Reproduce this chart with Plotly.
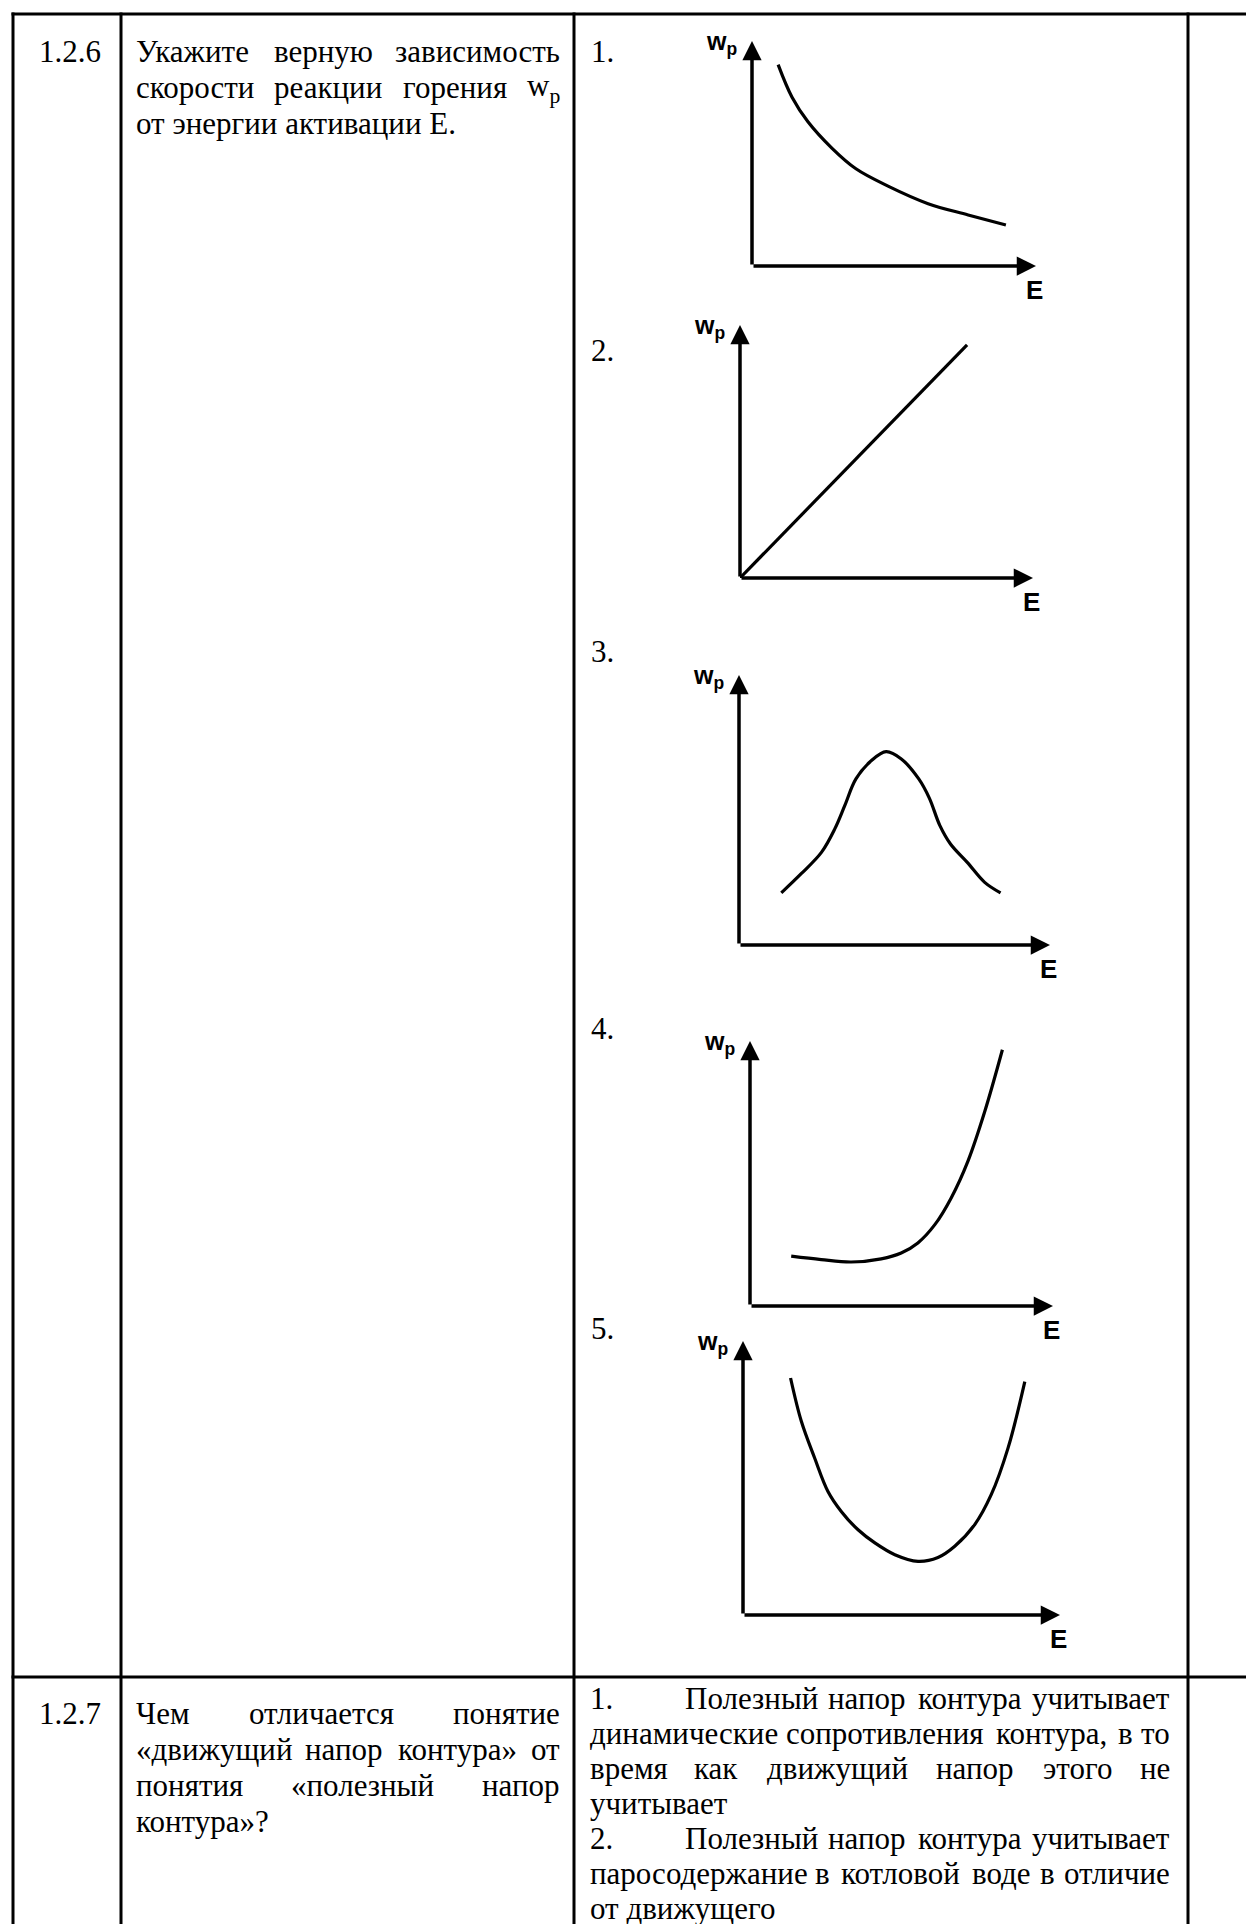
import re
import plotly.graph_objects as go

# ---------------------------------------------------------------------------
# Page / table geometry (pixels)
# ---------------------------------------------------------------------------
W_PX, H_PX = 1254, 1924
COL_X = [5, 113, 566, 1180, 1251]
ROW_Y = [6, 1669]

SERIF = 'Liberation Serif, Times New Roman, serif'
SANS = 'Liberation Sans, Arial, sans-serif'
TXT = 31

# ---------------------------------------------------------------------------
# Curve data: activation energy E (0-100) vs burn rate w_p (0-100)
# ---------------------------------------------------------------------------
g1_e = [9.2, 14.1, 19.7, 28.2, 36.6, 47.9, 62.0, 76.1, 89.4]
g1_w = [89.5, 75.0, 64.1, 52.3, 43.2, 35.5, 27.7, 22.7, 18.2]

g2_e = [0, 77.5]
g2_w = [0, 92.1]

g3_e = [13.6, 20.0, 26.5, 30.8, 34.0, 37.6, 42.6, 47.3, 52.2, 57.8, 61.2, 64.6, 68.0, 73.4, 79.0, 84.1]
g3_w = [19.3, 26.4, 34.3, 43.0, 51.6, 61.5, 68.3, 71.6, 68.9, 61.5, 54.4, 44.2, 37.4, 30.6, 23.2, 19.3]

g4_e = [13.6, 23.5, 33.4, 43.3, 49.9, 55.4, 61.0, 66.4, 71.9, 77.5, 83.3]
g4_w = [18.8, 17.5, 16.6, 17.8, 20.0, 23.8, 30.7, 40.8, 54.6, 73.5, 96.7]

g5_e = [15.0, 18.4, 22.6, 26.8, 31.0, 36.3, 41.6, 47.9, 55.2, 61.5, 66.8, 73.1, 78.3, 83.6, 88.9]
g5_w = [86.5, 70.7, 57.3, 45.1, 37.8, 31.1, 26.3, 22.0, 19.6, 21.0, 25.1, 33.0, 43.9, 60.9, 85.2]

CURVES = [(g1_e, g1_w, 'spline'), (g2_e, g2_w, 'linear'), (g3_e, g3_w, 'spline'),
          (g4_e, g4_w, 'spline'), (g5_e, g5_w, 'spline')]

# axis frame for every small graph, in data units
AXIS_E = [0, 100]
AXIS_W = [0, 100]

# graph frames: origin x, origin y, arrow tip x, arrow tip y (px)
FRAMES = [(744, 258, 1028, 33), (732, 570, 1025, 317), (731, 937, 1042, 667),
          (742, 1298, 1045, 1033), (735, 1607, 1052, 1333)]
GRAPH_NUM_BASE = [53, 352, 653, 1030, 1330]

# ---------------------------------------------------------------------------
# Texts
# ---------------------------------------------------------------------------
Q1_NUM = '1.2.6'
Q1_LINES = [('Укажите верную зависимость', True),
            ('скорости реакции горения w<sub>p</sub>', True),
            ('от энергии активации Е.', False)]
Q1_BASE = [53, 89, 125]

Q2_NUM = '1.2.7'
Q2_LINES = [('Чем отличается понятие', True),
            ('«движущий напор контура» от', True),
            ('понятия «полезный напор', True),
            ('контура»?', False)]
Q2_BASE = [1715, 1751, 1787, 1823]

A2_LINES = [('1.', 'Полезный напор контура учитывает', True),
            ('', 'динамические сопротивления контура, в то', True),
            ('', 'время как движущий напор этого не', True),
            ('', 'учитывает', False),
            ('2.', 'Полезный напор контура учитывает', True),
            ('', 'паросодержание в котловой воде в отличие', True),
            ('', 'от движущего', False)]
A2_BASE = [1700, 1735, 1770, 1805, 1840, 1875, 1910]

# approximate Times glyph widths (1/1000 em)
GLYPH = {
    'а': 444, 'б': 508, 'в': 472, 'г': 410, 'д': 509, 'е': 444, 'ж': 691, 'з': 395,
    'и': 535, 'й': 535, 'к': 486, 'л': 499, 'м': 633, 'н': 535, 'о': 500, 'п': 535,
    'р': 500, 'с': 444, 'т': 437, 'у': 500, 'ф': 648, 'х': 500, 'ц': 535, 'ч': 503,
    'ш': 770, 'щ': 770, 'ъ': 517, 'ы': 672, 'ь': 456, 'э': 429, 'ю': 747, 'я': 460,
    'У': 700, 'Ч': 664, 'П': 722, 'Е': 611, '«': 500, '»': 500, '.': 250, ',': 250,
    '?': 444, 'w': 722, 'p': 500,
}


def px_x(x):
    return x / W_PX


def px_y(y):
    return 1 - y / H_PX


def word_w(word, size=TXT):
    total = 0
    for part in re.split(r'(<sub>.*?</sub>)', word):
        if part.startswith('<sub>'):
            total += 0.7 * sum(GLYPH.get(c, 500) for c in part[5:-6])
        else:
            total += sum(GLYPH.get(c, 500) for c in part)
    return total / 1000 * size


def add_text(fig, text, x, base, anchor='left', size=TXT, family=SERIF):
    fig.add_annotation(text=text, x=px_x(x), y=px_y(base - size * 0.3),
                       xref='paper', yref='paper', xanchor=anchor, yanchor='middle',
                       showarrow=False, font=dict(family=family, size=size, color='black'))


def add_line(fig, text, left, right, base, justify):
    words = text.split(' ')
    if not justify or len(words) == 1:
        add_text(fig, text, left, base)
        return
    widths = [word_w(w) for w in words]
    gap = (right - left - sum(widths)) / (len(words) - 1)
    pos = left
    for i, (w, wd) in enumerate(zip(words, widths)):
        if i == 0:
            add_text(fig, w, left, base, 'left')
        elif i == len(words) - 1:
            add_text(fig, w, right, base, 'right')
        else:
            add_text(fig, w, pos + wd / 2, base, 'center')
        pos += wd + gap


fig = go.Figure()

# graphs
for i, ((e, w, shape), (ox, oy, tx, ty)) in enumerate(zip(CURVES, FRAMES)):
    n = '' if i == 0 else str(i + 1)
    xr, yr = 'x' + n, 'y' + n
    fig.add_trace(go.Scatter(x=e, y=w, mode='lines', xaxis=xr, yaxis=yr,
                             line=dict(color='black', width=3.2, shape=shape),
                             cliponaxis=False, showlegend=False, hoverinfo='skip'))
    fig.update_layout(**{
        'xaxis' + n: dict(domain=[px_x(ox), px_x(tx)], range=AXIS_E, visible=False,
                          anchor=yr),
        'yaxis' + n: dict(domain=[px_y(oy), px_y(ty)], range=AXIS_W, visible=False,
                          anchor=xr),
    })
    # E axis and w_p axis with arrow heads
    for hx, hy in [(AXIS_E[1], AXIS_W[0]), (AXIS_E[0], AXIS_W[1])]:
        fig.add_annotation(x=hx, y=hy, ax=AXIS_E[0], ay=AXIS_W[0], xref=xr, yref=yr,
                           axref=xr, ayref=yr, text='', showarrow=True, arrowhead=2,
                           arrowsize=1.1, arrowwidth=3.5, arrowcolor='black')
    fig.add_annotation(x=AXIS_E[0], y=AXIS_W[1], xref=xr, yref=yr, text='<b>w<sub>p</sub></b>',
                       xanchor='right', yanchor='middle', xshift=-13, yshift=-2,
                       showarrow=False, font=dict(family=SANS, size=25, color='black'))
    fig.add_annotation(x=AXIS_E[1], y=AXIS_W[0], xref=xr, yref=yr, text='<b>E</b>',
                       xanchor='center', yanchor='middle', yshift=-24, xshift=-2,
                       showarrow=False, font=dict(family=SANS, size=26, color='black'))
    add_text(fig, f'{i + 1}.', 581, GRAPH_NUM_BASE[i])

# question 1.2.6
add_text(fig, Q1_NUM, 29, Q1_BASE[0])
for (line, just), base in zip(Q1_LINES, Q1_BASE):
    add_line(fig, line, 126, 554, base, just)

# question 1.2.7
add_text(fig, Q2_NUM, 29, Q2_BASE[0])
for (line, just), base in zip(Q2_LINES, Q2_BASE):
    add_line(fig, line, 126, 554, base, just)
for (num, line, just), base in zip(A2_LINES, A2_BASE):
    if num:
        add_text(fig, num, 580, base)
        add_line(fig, line, 675, 1164, base, just)
    else:
        add_line(fig, line, 580, 1164, base, just)

# table grid
for x in COL_X:
    fig.add_shape(type='line', xref='paper', yref='paper', x0=px_x(x), x1=px_x(x),
                  y0=px_y(ROW_Y[0] - 1.5), y1=0, line=dict(color='black', width=3))
for y in ROW_Y:
    fig.add_shape(type='line', xref='paper', yref='paper', x0=px_x(COL_X[0] - 1.5),
                  x1=px_x(COL_X[-1] + 1.5), y0=px_y(y), y1=px_y(y),
                  line=dict(color='black', width=3))

fig.update_layout(width=W_PX, height=H_PX, margin=dict(l=0, r=0, t=0, b=0),
                  paper_bgcolor='white', plot_bgcolor='white', showlegend=False)

fig.write_html("out.html", config={'displayModeBar': False})
